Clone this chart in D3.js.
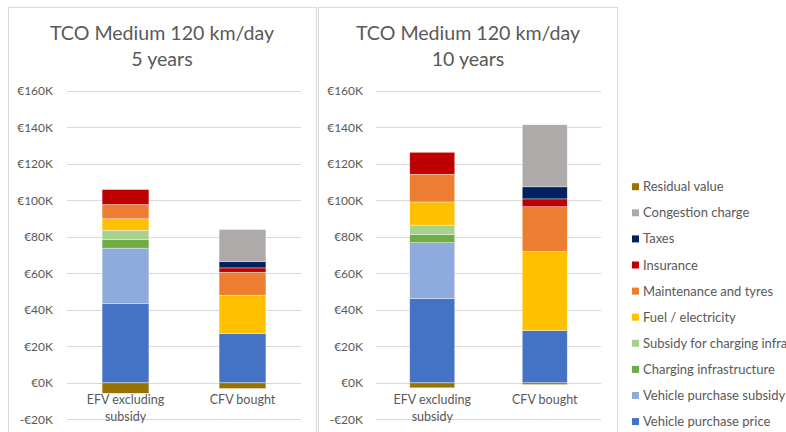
<!DOCTYPE html>
<html>
<head>
<meta charset="utf-8">
<script src="https://cdn.jsdelivr.net/npm/d3@7"></script>
<style>
  html, body { margin: 0; padding: 0; background: #fff; }
  svg { display: block; }
  text { font-family: Lato, "Open Sans", sans-serif; fill: #595959; }
</style>
</head>
<body>
<svg id="chart" width="786" height="432"></svg>
<script>
// ---------- DATA (values in € thousands; each array = [EFV, CFV]) ----------
const categories = ["EFV excluding subsidy", "CFV bought"];
const categoryLines = [["EFV excluding", "subsidy"], ["CFV bought"]];
const panelTitles = [["TCO Medium 120 km/day", "5 years"], ["TCO Medium 120 km/day", "10 years"]];

const seriesNames = [
  "Vehicle purchase price", "Vehicle purchase subsidy", "Charging infrastructure",
  "Subsidy for charging infra", "Fuel / electricity", "Maintenance and tyres",
  "Insurance", "Taxes", "Congestion charge", "Residual value"
];
const seriesColors = [
  "#4472C4", "#8FAADC", "#70AD47", "#A9D18E", "#FFC000",
  "#ED7D31", "#C00000", "#002060", "#AEAAAA", "#997300"
];

// 5 years
const purchasePrice5     = [43.4, 27.1];
const purchaseSubsidy5   = [30.4, 0];
const chargingInfra5     = [4.8, 0];
const chargingSubsidy5   = [5.0, 0];
const fuel5              = [6.3, 20.9];
const maintenance5       = [7.8, 12.6];
const insurance5         = [8.2, 2.4];
const taxes5             = [0, 3.5];
const congestion5        = [0, 17.5];
const residual5          = [-5.7, -3.1];

// 10 years
const purchasePrice10    = [46.2, 28.7];
const purchaseSubsidy10  = [30.6, 0];
const chargingInfra10    = [4.4, 0];
const chargingSubsidy10  = [5.2, 0];
const fuel10             = [12.7, 43.2];
const maintenance10      = [15.2, 24.6];
const insurance10        = [12.0, 4.3];
const taxes10            = [0, 6.6];
const congestion10       = [0, 34.0];
const residual10         = [-2.7, -0.9];

const yTicks = [-20, 0, 20, 40, 60, 80, 100, 120, 140, 160];

const panelSeries = [
  [purchasePrice5, purchaseSubsidy5, chargingInfra5, chargingSubsidy5, fuel5,
   maintenance5, insurance5, taxes5, congestion5, residual5],
  [purchasePrice10, purchaseSubsidy10, chargingInfra10, chargingSubsidy10, fuel10,
   maintenance10, insurance10, taxes10, congestion10, residual10]
];

// ---------- LAYOUT ----------
const svg = d3.select("#chart");
const grid = "#D9D9D9";

const panels = [
  { box: [8.5, 7.5, 308, 440], plotX: [67, 301], labelX: 53, titleX: 162 },
  { box: [318.5, 7.5, 299, 440], plotX: [376, 601], labelX: 363, titleX: 468 }
];

const fmt = v => (v < 0 ? "-€" + Math.abs(v) : "€" + v) + "K";

panels.forEach((p, pi) => {
  const g = svg.append("g");
  g.append("rect")
    .attr("x", p.box[0]).attr("y", p.box[1])
    .attr("width", p.box[2]).attr("height", p.box[3])
    .attr("fill", "#fff").attr("stroke", grid).attr("stroke-width", 1);

  // title
  const t = g.append("text").attr("text-anchor", "middle").style("font-size", "19.6px");
  panelTitles[pi].forEach((line, li) => {
    t.append("tspan").attr("x", p.titleX).attr("y", 40 + li * 26).text(line);
  });

  const y = d3.scaleLinear().domain([-20, 160]).range([419.4, 90.8]);
  const x = d3.scaleBand().domain(categories).range(p.plotX)
    .paddingInner(0.6).paddingOuter(0.3);

  // gridlines
  g.append("g").selectAll("line").data(yTicks).join("line")
    .attr("x1", p.plotX[0]).attr("x2", p.plotX[1])
    .attr("y1", d => Math.round(y(d)) + 0.5).attr("y2", d => Math.round(y(d)) + 0.5)
    .attr("stroke", grid).attr("stroke-width", 1);

  // y labels
  g.append("g").selectAll("text").data(yTicks).join("text")
    .attr("x", p.labelX).attr("y", d => y(d))
    .attr("dy", "0.35em").attr("text-anchor", "end")
    .style("font-size", "12px").text(fmt);

  // stacked bars
  const rows = categories.map((c, ci) => {
    const r = { cat: c };
    seriesNames.forEach((s, si) => { r[s] = panelSeries[pi][si][ci]; });
    return r;
  });
  const stacked = d3.stack().keys(seriesNames).offset(d3.stackOffsetDiverging)(rows);

  g.append("g").selectAll("g").data(stacked).join("g")
    .attr("fill", (d, i) => seriesColors[i])
    .selectAll("rect").data(d => d.filter(e => e[1] - e[0] !== 0)).join("rect")
    .attr("x", d => x(d.data.cat))
    .attr("width", x.bandwidth())
    .attr("y", d => y(Math.max(d[0], d[1])))
    .attr("height", d => Math.abs(y(d[0]) - y(d[1])))
    .attr("stroke", "#fff").attr("stroke-width", 0.6).attr("stroke-opacity", 0.6);

  // category labels
  categories.forEach((c, ci) => {
    const ct = g.append("text").attr("text-anchor", "middle").style("font-size", "12.5px");
    categoryLines[ci].forEach((line, li) => {
      ct.append("tspan").attr("x", x(c) + x.bandwidth() / 2)
        .attr("y", 404 + li * 17).text(line);
    });
  });
});

// legend area
svg.append("line").attr("x1", 617.5).attr("x2", 617.5).attr("y1", 7).attr("y2", 432)
  .attr("stroke", grid).attr("stroke-width", 1);

const legendOrder = seriesNames.map((s, i) => i).reverse();
const lg = svg.append("g").selectAll("g").data(legendOrder).join("g")
  .attr("transform", (d, i) => `translate(632, ${186.7 + i * 26.1})`);
lg.append("rect").attr("x", 0).attr("y", -3.5).attr("width", 7).attr("height", 7)
  .attr("fill", d => seriesColors[d]);
lg.append("text").attr("x", 11).attr("dy", "0.35em").style("font-size", "13px")
  .text(d => seriesNames[d]);
</script>
</body>
</html>
